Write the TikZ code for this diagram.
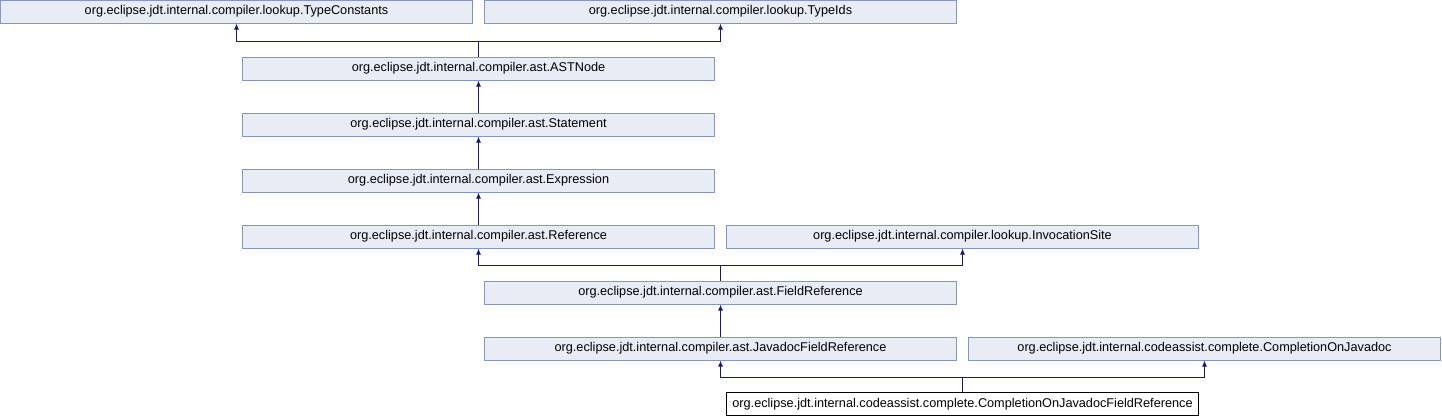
\documentclass[tikz,border=0pt]{standalone}
\usepackage{fontspec}
\setmainfont{Liberation Sans}
\usetikzlibrary{arrows.meta}
\definecolor{boxfill}{HTML}{E8ECF4}
\definecolor{boxline}{HTML}{8496C8}
\definecolor{edgecol}{HTML}{191970}
\begin{document}
\begin{tikzpicture}[x=1pt,y=-1pt,
  cls/.style={draw=boxline,fill=boxfill,line width=1pt,minimum width=472pt,minimum height=23pt,inner sep=0pt,font=\fontsize{12.7}{14}\selectfont},
  cur/.style={cls,draw=black,fill=white},
  arr/.style={draw=edgecol,line width=1pt,-{Latex[length=6pt,width=5pt]}},
  ln/.style={draw=edgecol,line width=1pt}]
\useasboundingbox (0,0) rectangle (1442,416);
\node[cls] (tc) at (236.5,11.5) {org.eclipse.jdt.internal.compiler.lookup.TypeConstants};
\node[cls] (ti) at (720.5,11.5) {org.eclipse.jdt.internal.compiler.lookup.TypeIds};
\node[cls] (ast) at (478.5,68.5) {org.eclipse.jdt.internal.compiler.ast.ASTNode};
\node[cls] (st) at (478.5,124.5) {org.eclipse.jdt.internal.compiler.ast.Statement};
\node[cls] (ex) at (478.5,180.5) {org.eclipse.jdt.internal.compiler.ast.Expression};
\node[cls] (rf) at (478.5,236.5) {org.eclipse.jdt.internal.compiler.ast.Reference};
\node[cls] (is) at (962.5,236.5) {org.eclipse.jdt.internal.compiler.lookup.InvocationSite};
\node[cls] (fr) at (720.5,292.5) {org.eclipse.jdt.internal.compiler.ast.FieldReference};
\node[cls] (jf) at (720.5,348.5) {org.eclipse.jdt.internal.compiler.ast.JavadocFieldReference};
\node[cls] (cj) at (1204.5,348.5) {org.eclipse.jdt.internal.codeassist.complete.CompletionOnJavadoc};
\node[cur] (cf) at (962.5,404) {org.eclipse.jdt.internal.codeassist.complete.CompletionOnJavadocFieldReference};
\coordinate (j1) at (0,41);
\coordinate (j2) at (0,265);
\coordinate (j3) at (0,377);
% ASTNode -> TypeConstants, TypeIds
\draw[ln] (ast.north) -- (ast.north |- j1);
\draw[arr] (ast.north |- j1) -| (tc.south);
\draw[arr] (ast.north |- j1) -| (ti.south);
\draw[arr] (st.north) -- (ast.south);
\draw[arr] (ex.north) -- (st.south);
\draw[arr] (rf.north) -- (ex.south);
% FieldReference -> Reference, InvocationSite
\draw[ln] (fr.north) -- (fr.north |- j2);
\draw[arr] (fr.north |- j2) -| (rf.south);
\draw[arr] (fr.north |- j2) -| (is.south);
\draw[arr] (jf.north) -- (fr.south);
% CompletionOnJavadocFieldReference -> JavadocFieldReference, CompletionOnJavadoc
\draw[ln] (cf.north) -- (cf.north |- j3);
\draw[arr] (cf.north |- j3) -| (jf.south);
\draw[arr] (cf.north |- j3) -| (cj.south);
\end{tikzpicture}
\end{document}
